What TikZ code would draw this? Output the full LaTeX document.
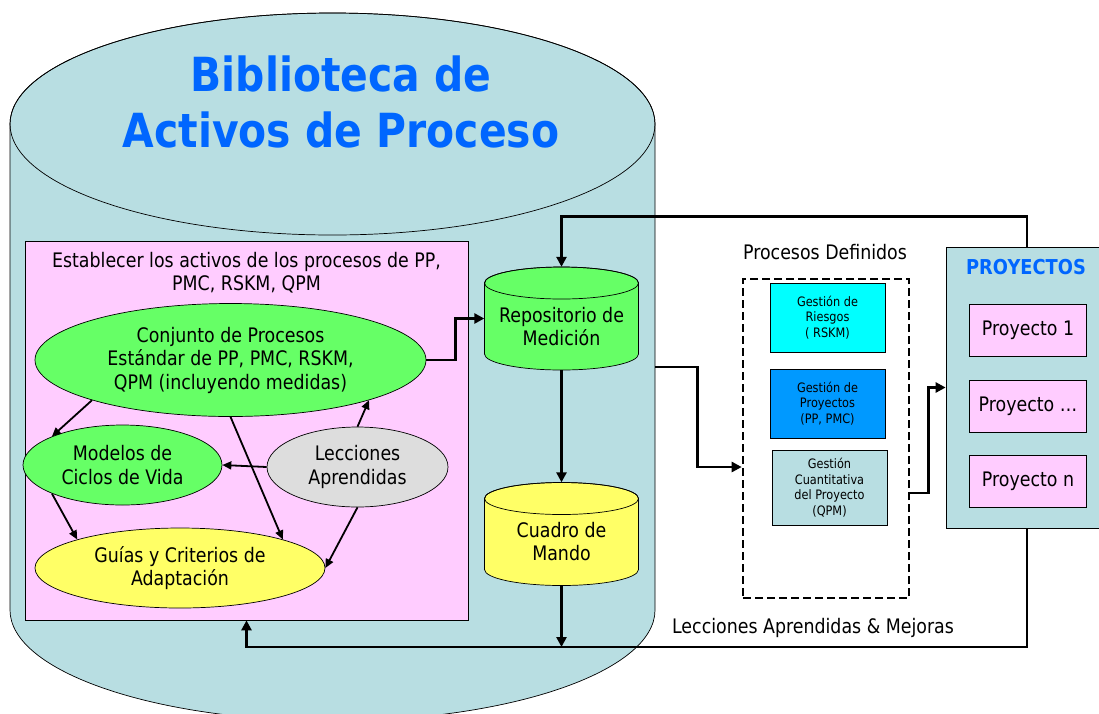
\documentclass[tikz,border=0pt]{standalone}
\usepackage{fontspec}
\setmainfont{DejaVu Sans}[FakeStretch=0.87]
\usetikzlibrary{shapes.geometric, arrows.meta}

\definecolor{libteal}{RGB}{184,222,226}
\definecolor{setpink}{RGB}{255,204,255}
\definecolor{procgreen}{RGB}{102,255,102}
\definecolor{guideyellow}{RGB}{255,255,102}
\definecolor{lessgrey}{RGB}{221,221,221}
\definecolor{riskcyan}{RGB}{0,255,255}
\definecolor{projblue}{RGB}{0,153,255}
\definecolor{titleblue}{RGB}{0,102,255}

\tikzset{
  arr/.style={line width=2.6pt, -{Triangle[length=10pt,width=10pt]}},
  small arr/.style={line width=1.8pt, -{Triangle[length=9pt,width=8pt]}},
  bubble/.style={ellipse, draw, line width=0.7pt, inner sep=0pt, align=center,
    font=\fontsize{20}{23.5}\selectfont},
  drum/.style={line width=0.7pt},
  frame/.style={rectangle, inner sep=0pt},
  procbox/.style={rectangle, draw, line width=0.7pt, align=center,
    minimum width=115pt, font=\fontsize{13}{15.7}\selectfont},
  projbox/.style={rectangle, draw, line width=0.7pt, fill=setpink,
    minimum width=117pt, minimum height=52pt, font=\fontsize{20}{23}\selectfont},
}

\begin{document}
\begin{tikzpicture}[x=1pt, y=-1pt]
  \useasboundingbox (0,0) rectangle (1099,713);

  % the library itself
  \filldraw[drum, fill=libteal] (10,124) -- (10,610)
    arc[start angle=180, end angle=0, x radius=322.5, y radius=111]
    -- (655,124) arc[start angle=0, end angle=-180, x radius=322.5, y radius=111] -- cycle;
  \draw[drum] (332.5,124) ellipse[x radius=322.5, y radius=111];
  \node[frame, minimum width=645pt, minimum height=708pt] (lib) at (332.5,367) {};
  \node[text=titleblue, font=\fontsize{47}{56}\selectfont\bfseries, align=center]
    (title) at (341,102) {Biblioteca de\\Activos de Proceso};

  % assets box
  \node[rectangle, draw, line width=0.7pt, fill=setpink, minimum width=443pt, minimum height=379pt]
    (pink) at (246.5,430.5) {};
  \node[align=center, font=\fontsize{20}{23}\selectfont]
    (head) at (246.5,273) {Establecer los activos de los procesos de PP,\\PMC, RSKM, QPM};

  \node[bubble, fill=procgreen, minimum width=391pt, minimum height=113pt]
    (conj) at (230.5,360) {Conjunto de Procesos\\Estándar de PP, PMC, RSKM,\\QPM (incluyendo medidas)};
  \node[bubble, fill=procgreen, minimum width=199pt, minimum height=80pt]
    (life) at (122.5,465) {Modelos de\\Ciclos de Vida};
  \node[bubble, fill=lessgrey, minimum width=181pt, minimum height=80pt]
    (less) at (357.5,467) {Lecciones\\Aprendidas};
  \node[bubble, fill=guideyellow, minimum width=290pt, minimum height=80pt]
    (guide) at (180,568) {Guías y Criterios de\\Adaptación};

  \draw[small arr] (conj.south west) -- (life.north west);
  \draw[small arr] (life.south west) -- (guide.north west);
  \draw[small arr] (conj.south) -- (guide.north east);
  \draw[small arr] (less.north) -- (conj.south east);
  \draw[small arr] (less.west) -- (life.east);
  \draw[small arr] (less.south) -- (guide.east);

  % measurement stores
  \foreach \nm/\yc/\col/\txt in {repo/318.5/procgreen/{Repositorio de\\Medición},
                                cuadro/534/guideyellow/{Cuadro de\\Mando}}{
    \filldraw[drum, fill=\col] (484.5,\yc-35.5) -- (484.5,\yc+35.5)
      arc[start angle=180, end angle=0, x radius=77, y radius=16]
      -- (638.5,\yc-35.5) arc[start angle=0, end angle=-180, x radius=77, y radius=16] -- cycle;
    \draw[drum] (561.5,\yc-35.5) ellipse[x radius=77, y radius=16];
    \node[frame, minimum width=154pt, minimum height=103pt] (\nm) at (561.5,\yc) {};
    \node[align=center, font=\fontsize{20}{23}\selectfont] (\nm txt) at (561.5,\yc+8) {\txt};
  }
  \coordinate (join) at (561.5,647);

  % defined processes
  \node[font=\fontsize{20}{23}\selectfont] (deftitle) at (825,252) {Procesos Definidos};
  \node[rectangle, draw, line width=2.6pt, dash pattern=on 8pt off 4pt,
    minimum width=166pt, minimum height=319pt] (defbox) at (826,438.5) {};
  \node[procbox, fill=riskcyan, minimum height=69pt] (risk) at (827.5,317.5)
    {Gestión de\\Riesgos\\( RSKM)};
  \node[procbox, fill=projblue, minimum height=69pt] (pm) at (827.5,403.5)
    {Gestión de\\Proyectos\\(PP, PMC)};
  \node[procbox, fill=libteal, minimum height=75pt] (qpm) at (829.5,487.5)
    {Gestión\\Cuantitativa\\del Proyecto\\(QPM)};
  \node[font=\fontsize{20}{23}\selectfont] (mejoras) at (813,628)
    {Lecciones Aprendidas \& Mejoras};

  % projects
  \node[rectangle, draw, line width=0.7pt, fill=libteal, minimum width=162pt, minimum height=281pt]
    (proj) at (1027,387.5) {};
  \node[text=titleblue, font=\fontsize{20.5}{23}\selectfont\bfseries] (projtitle) at (1026,267) {PROYECTOS};
  \foreach \i/\y/\txt in {1/330/Proyecto 1, 2/406.5/Proyecto \dots, 3/481.5/Proyecto n}
    \node[projbox] (proy\i) at (1028,\y) {\txt};

  % flows
  \draw[arr] (conj.east) -- ++(29,0) |- (repo.west);
  \draw[arr] (repo.south) -- (cuadro.north);
  \draw[arr] (cuadro.south) -- (join);
  \draw[arr] (proj.south) |- (join) -| (pink.south);
  \draw[arr] (proj.north) -- ++(0,-30) -| (repo.north);
  \draw[arr] (lib.east) -- ++(42,0) |- ([yshift=-28.5pt]defbox.west);
  \draw[arr] ([yshift=-54.5pt]defbox.east) -- ++(18,0) |- (proj.west);
\end{tikzpicture}
\end{document}
